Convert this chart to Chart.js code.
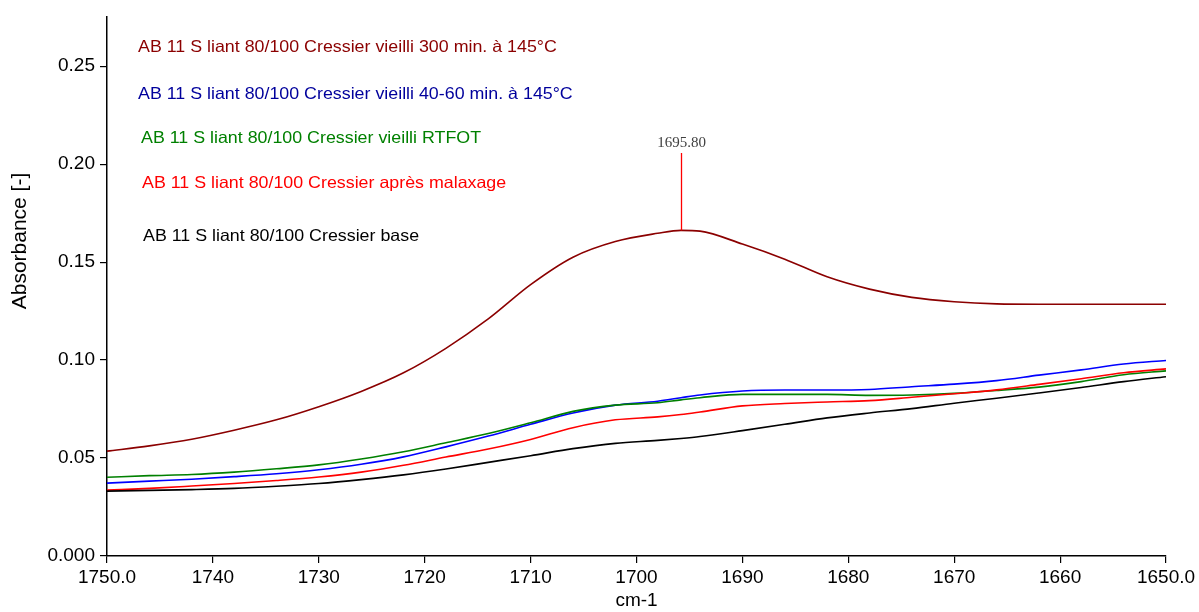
<!DOCTYPE html>
<html>
<head>
<meta charset="utf-8">
<script src="https://cdn.jsdelivr.net/npm/chart.js@4/dist/chart.umd.min.js"></script>
<style>
html,body{margin:0;padding:0;background:#fff;}
#c{display:block;}
</style>
</head>
<body>
<canvas id="c" width="1199" height="612"></canvas>
<script>
// Wavenumbers (cm-1)
const wavenumbers = [1750,1746,1742,1738,1734,1730,1726,1722,1718,1714,1710,1706,1702,1698,1695.8,1694,1690,1686,1682,1678,1674,1670,1666,1662,1658,1654,1650];
// Series (absorbance)
const aged300 = [0.0535,0.0562,0.0596,0.0642,0.0695,0.0762,0.0840,0.0935,0.1060,0.1210,0.1385,0.1525,0.1605,0.1647,0.1662,0.1658,0.1592,0.1515,0.1425,0.1362,0.1320,0.1298,0.1287,0.1285,0.1285,0.1285,0.1285];
const aged4060 = [0.0372,0.0382,0.0392,0.0405,0.0420,0.0440,0.0468,0.0506,0.0557,0.0612,0.0672,0.0730,0.0770,0.0790,0.0808,0.0822,0.0842,0.0847,0.0847,0.0850,0.0864,0.0877,0.0895,0.0923,0.0950,0.0980,0.0998];
const agedRTFOT = [0.0402,0.0410,0.0416,0.0428,0.0445,0.0465,0.0495,0.0532,0.0578,0.0625,0.0680,0.0738,0.0770,0.0782,0.0797,0.0808,0.0825,0.0825,0.0825,0.0820,0.0822,0.0830,0.0845,0.0862,0.0890,0.0925,0.0945];
const afterMixing = [0.0336,0.0345,0.0357,0.0370,0.0385,0.0403,0.0428,0.0463,0.0505,0.0546,0.0595,0.0655,0.0695,0.0710,0.0722,0.0735,0.0766,0.0778,0.0786,0.0793,0.0810,0.0828,0.0848,0.0876,0.0905,0.0935,0.0955];
const baseBinder = [0.0331,0.0335,0.0339,0.0345,0.0356,0.0370,0.0390,0.0414,0.0444,0.0478,0.0512,0.0548,0.0575,0.0590,0.0600,0.0610,0.0640,0.0672,0.0705,0.0730,0.0752,0.0780,0.0805,0.0832,0.0860,0.0890,0.0915];
const seriesNames = [
  "AB 11 S liant 80/100 Cressier vieilli 300 min. à 145°C",
  "AB 11 S liant 80/100 Cressier vieilli 40-60 min. à 145°C",
  "AB 11 S liant 80/100 Cressier vieilli RTFOT",
  "AB 11 S liant 80/100 Cressier après malaxage",
  "AB 11 S liant 80/100 Cressier base"
];
const yTicks = [0, 0.05, 0.10, 0.15, 0.20, 0.25];
const xTicks = [1750,1740,1730,1720,1710,1700,1690,1680,1670,1660,1650];
const peakWavenumber = 1695.80;
const yTitle = 'Absorbance [-]';
const xTitle = 'cm-1';

const lineColors = ['#8b0000','#0000ff','#008000','#ff0000','#000000'];
const textColors = ['#8b0000','#00009c','#008000','#ff0000','#000000'];
const allSeries = [aged300, aged4060, agedRTFOT, afterMixing, baseBinder];
const FONT = '"Liberation Sans", Arial, sans-serif';

const toPts = arr => wavenumbers.map((x,i)=>({x:x, y:arr[i]}));
const order = [4,3,2,1,0];
const datasets = order.map(i => ({
  label: seriesNames[i],
  data: toPts(allSeries[i]),
  borderColor: lineColors[i],
  borderWidth: 1.6,
  pointRadius: 0,
  fill: false,
  cubicInterpolationMode: 'monotone'
}));

const labelPlugin = {
  id: 'labels',
  afterDatasetsDraw(chart) {
    const ctx = chart.ctx;
    const xs = chart.scales.x, ys = chart.scales.y;
    ctx.save();
    ctx.textBaseline = 'middle';
    ctx.textAlign = 'left';
    ctx.font = '16.5px ' + FONT;
    const lx = [138,138,141,142,143];
    const ly = [47,94,138,183,236];
    for (let i = 0; i < seriesNames.length; i++) {
      ctx.save();
      ctx.translate(lx[i], ly[i]);
      ctx.scale(1.08, 1);
      ctx.fillStyle = textColors[i];
      ctx.fillText(seriesNames[i], 0, 0);
      ctx.restore();
    }
    // peak marker
    const idx = wavenumbers.indexOf(peakWavenumber);
    const px = Math.round(xs.getPixelForValue(peakWavenumber)) + 0.5;
    const py = ys.getPixelForValue(aged300[idx]);
    ctx.strokeStyle = '#ff0000';
    ctx.lineWidth = 1.3;
    ctx.beginPath();
    ctx.moveTo(px, py);
    ctx.lineTo(px, 153);
    ctx.stroke();
    ctx.fillStyle = '#404040';
    ctx.font = '15px "Liberation Serif", "Times New Roman", serif';
    ctx.textAlign = 'center';
    ctx.fillText(peakWavenumber.toFixed(2), px, 143);
    // y title
    ctx.translate(20, 241);
    ctx.rotate(-Math.PI/2);
    ctx.fillStyle = '#000';
    ctx.font = '21px ' + FONT;
    ctx.textAlign = 'center';
    ctx.fillText(yTitle, 0, 0);
    ctx.restore();
  }
};

new Chart(document.getElementById('c'), {
  type: 'line',
  data: { datasets },
  options: {
    responsive: false,
    animation: false,
    layout: { padding: { left: 0, top: 13, right: 33, bottom: 0 } },
    plugins: { legend: { display: false }, tooltip: { enabled: false } },
    scales: {
      x: {
        type: 'linear',
        reverse: true,
        min: 1650, max: 1750,
        afterBuildTicks: s => { s.ticks = xTicks.map(v => ({value: v})); },
        ticks: {
          color: '#000',
          font: { family: FONT, size: 19 },
          padding: 3,
          maxRotation: 0,
          autoSkip: false,
          callback: v => (v === 1750 || v === 1650) ? v.toFixed(1) : String(v)
        },
        grid: { drawOnChartArea: false, drawTicks: true, tickLength: 7, color: '#000', lineWidth: 1.2 },
        border: { display: true, color: '#000', width: 1.5 },
        title: { display: true, text: xTitle, color: '#000', font: { family: FONT, size: 19 }, padding: { top: 0, bottom: 0 } },
        afterFit: s => { s.height = 56; }
      },
      y: {
        type: 'linear',
        min: 0, max: 0.2754,
        afterBuildTicks: s => { s.ticks = yTicks.map(v => ({value: v})); },
        ticks: {
          color: '#000',
          font: { family: FONT, size: 19 },
          padding: 5,
          callback: v => v === 0 ? '0.000' : v.toFixed(2)
        },
        grid: { drawOnChartArea: false, drawTicks: true, tickLength: 7, color: '#000', lineWidth: 1.2 },
        border: { display: true, color: '#000', width: 1.5 },
        title: { display: false },
        afterFit: s => { s.width = 107; }
      }
    }
  },
  plugins: [labelPlugin]
});
</script>
</body>
</html>
